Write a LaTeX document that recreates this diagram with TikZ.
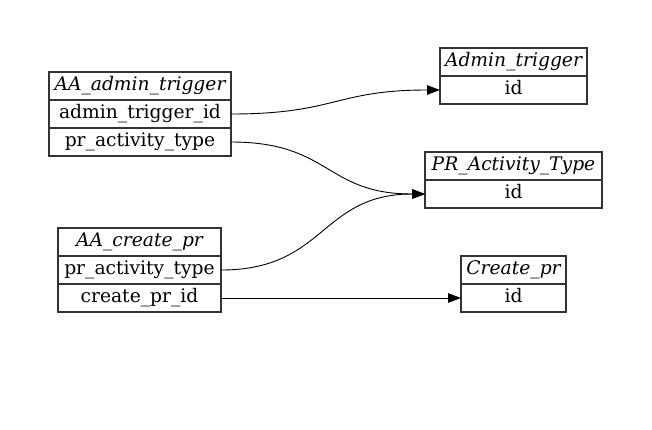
\documentclass[tikz,border=0pt]{standalone}
\usepackage{fontspec}
\setmainfont{DejaVu Serif}
\usepackage{tikz}
\usetikzlibrary{arrows.meta,positioning}

\newcommand{\erfont}{\fontsize{18.7}{22}\selectfont}

\begin{document}
\begin{tikzpicture}[x=1pt, y=-1pt]

\definecolor{erframe}{HTML}{333333}
\definecolor{erlink}{HTML}{000000}

\tikzset{
  tabletitle/.style={
    rectangle, draw=erframe, line width=1.2pt, outer sep=0pt, inner sep=0pt,
    minimum width=#1, minimum height=28pt, text height=13.5pt, text depth=4pt,
    font=\erfont\itshape, anchor=north west
  },
  tablefield/.style={
    rectangle, draw=erframe, line width=1.2pt, outer sep=0pt, inner sep=0pt,
    minimum width=#1, minimum height=28pt, text height=13.5pt, text depth=4pt,
    font=\erfont
  },
  fkedge/.style={
    draw=erlink, line width=0.9pt, -{Triangle[length=13pt,width=9.5pt]}
  }
}

\useasboundingbox (0,0) rectangle (652,429);

% Referencing tables, on the left.
\node[tabletitle=182pt]                          (aaat)      at (49,72) {AA\_admin\_trigger};
\node[tablefield=182pt, below=0pt of aaat]       (aaat-trig) {admin\_trigger\_id};
\node[tablefield=182pt, below=0pt of aaat-trig]  (aaat-type) {pr\_activity\_type};

\node[tabletitle=163pt]                          (aacp)      at (58,228) {AA\_create\_pr};
\node[tablefield=163pt, below=0pt of aacp]       (aacp-type) {pr\_activity\_type};
\node[tablefield=163pt, below=0pt of aacp-type]  (aacp-cpid) {create\_pr\_id};

% Referenced tables, on the right.
\node[tabletitle=147pt]                          (admt)      at (440,48) {Admin\_trigger};
\node[tablefield=147pt, below=0pt of admt]       (admt-id)   {id};

\node[tabletitle=177pt]                          (prat)      at (425,152) {PR\_Activity\_Type};
\node[tablefield=177pt, below=0pt of prat]       (prat-id)   {id};

\node[tabletitle=105pt]                          (crpr)      at (461,256) {Create\_pr};
\node[tablefield=105pt, below=0pt of crpr]       (crpr-id)   {id};

% Foreign keys.
\draw[fkedge] (aaat-trig.east) .. controls +(105,0) and +(-105,0) .. (admt-id.west);
\draw[fkedge] (aaat-type.east) .. controls +(100,0) and +(-100,0) .. (prat-id.west);
\draw[fkedge] (aacp-type.east) .. controls +(105,0) and +(-105,0) .. (prat-id.west);
\draw[fkedge] (aacp-cpid.east) -- (crpr-id.west);

\end{tikzpicture}
\end{document}
